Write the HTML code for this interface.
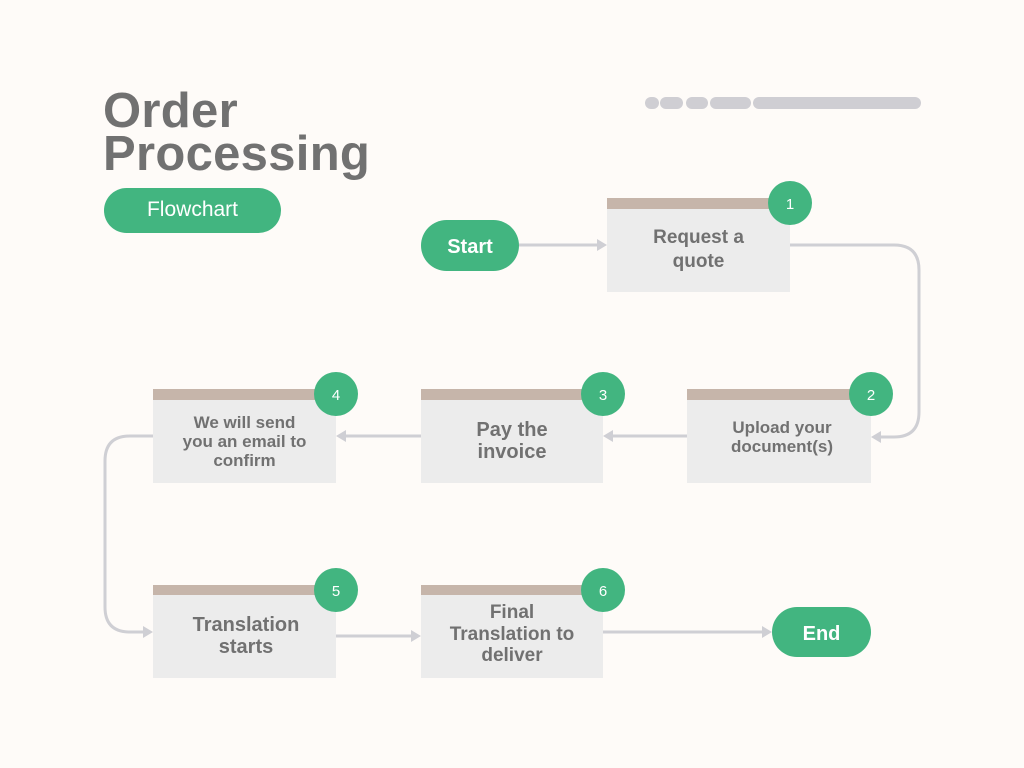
<!DOCTYPE html>
<html>
<head>
<meta charset="utf-8">
<style>
  html, body { margin:0; padding:0; background:#fefbf8; }
  body { width:1024px; height:768px; overflow:hidden; }
  svg { display:block; }
  text { font-family: "Liberation Sans", Arial, sans-serif; }
</style>
</head>
<body>
<svg width="1024" height="768" viewBox="0 0 1024 768" xmlns="http://www.w3.org/2000/svg">
  <rect x="0" y="0" width="1024" height="768" fill="#fefbf8"/>

  <!-- Title -->
  <text x="103" y="127" font-size="49" font-weight="bold" fill="#717171" letter-spacing="0.3">Order</text>
  <text x="103" y="170" font-size="49" font-weight="bold" fill="#717171" letter-spacing="0.3">Processing</text>

  <!-- Flowchart pill -->
  <rect x="104" y="188" width="177" height="45" rx="22.5" fill="#42b580"/>
  <text x="192.5" y="216" font-size="21" fill="#ffffff" text-anchor="middle">Flowchart</text>

  <!-- decorative pills -->
  <rect x="645" y="97" width="14" height="12" rx="6" fill="#cfced3"/>
  <rect x="660" y="97" width="23" height="12" rx="6" fill="#cfced3"/>
  <rect x="686" y="97" width="22" height="12" rx="6" fill="#cfced3"/>
  <rect x="710" y="97" width="41" height="12" rx="6" fill="#cfced3"/>
  <rect x="753" y="97" width="168" height="12" rx="6" fill="#cfced3"/>

  <!-- Connectors -->
  <g fill="none" stroke="#cfcfd4" stroke-width="3">
    <line x1="519" y1="245" x2="598" y2="245"/>
    <path d="M790 245 H894 Q919 245 919 270 V412 Q919 437 894 437 H880"/>
    <line x1="687" y1="436" x2="612" y2="436"/>
    <line x1="421" y1="436" x2="345" y2="436"/>
    <path d="M153 436 H130 Q105 436 105 461 V607 Q105 632 130 632 H144"/>
    <line x1="336" y1="636" x2="412" y2="636"/>
    <line x1="603" y1="632" x2="763" y2="632"/>
  </g>
  <g fill="#cfcfd4">
    <polygon points="607,245 597,239 597,251"/>
    <polygon points="871,437 881,431 881,443"/>
    <polygon points="603,436 613,430 613,442"/>
    <polygon points="336,436 346,430 346,442"/>
    <polygon points="153,632 143,626 143,638"/>
    <polygon points="421,636 411,630 411,642"/>
    <polygon points="772,632 762,626 762,638"/>
  </g>

  <!-- Start / End -->
  <rect x="421" y="220" width="98" height="51" rx="25.5" fill="#42b580"/>
  <text x="470" y="253" font-size="20" font-weight="bold" fill="#ffffff" text-anchor="middle">Start</text>
  <rect x="772" y="607" width="99" height="50" rx="25" fill="#42b580"/>
  <text x="821.5" y="640" font-size="20" font-weight="bold" fill="#ffffff" text-anchor="middle">End</text>

  <!-- Box 1 -->
  <rect x="607" y="198" width="183" height="94" fill="#ececec"/>
  <rect x="607" y="198" width="183" height="11" fill="#c6b5aa"/>
  <text x="698.5" y="243" font-size="19" font-weight="bold" fill="#717171" text-anchor="middle">Request a</text>
  <text x="698.5" y="267" font-size="19" font-weight="bold" fill="#717171" text-anchor="middle">quote</text>
  <circle cx="790" cy="203" r="22" fill="#42b580"/>
  <text x="790" y="209" font-size="15" fill="#ffffff" text-anchor="middle">1</text>

  <!-- Box 2 -->
  <rect x="687" y="389" width="184" height="94" fill="#ececec"/>
  <rect x="687" y="389" width="184" height="11" fill="#c6b5aa"/>
  <text x="782" y="433" font-size="17" font-weight="bold" fill="#717171" text-anchor="middle">Upload your</text>
  <text x="782" y="452" font-size="17" font-weight="bold" fill="#717171" text-anchor="middle">document(s)</text>
  <circle cx="871" cy="394" r="22" fill="#42b580"/>
  <text x="871" y="400" font-size="15" fill="#ffffff" text-anchor="middle">2</text>

  <!-- Box 3 -->
  <rect x="421" y="389" width="182" height="94" fill="#ececec"/>
  <rect x="421" y="389" width="182" height="11" fill="#c6b5aa"/>
  <text x="512" y="436" font-size="20" font-weight="bold" fill="#717171" text-anchor="middle">Pay the</text>
  <text x="512" y="458" font-size="20" font-weight="bold" fill="#717171" text-anchor="middle">invoice</text>
  <circle cx="603" cy="394" r="22" fill="#42b580"/>
  <text x="603" y="400" font-size="15" fill="#ffffff" text-anchor="middle">3</text>

  <!-- Box 4 -->
  <rect x="153" y="389" width="183" height="94" fill="#ececec"/>
  <rect x="153" y="389" width="183" height="11" fill="#c6b5aa"/>
  <text x="244.5" y="428" font-size="17" font-weight="bold" fill="#717171" text-anchor="middle">We will send</text>
  <text x="244.5" y="447" font-size="17" font-weight="bold" fill="#717171" text-anchor="middle">you an email to</text>
  <text x="244.5" y="466" font-size="17" font-weight="bold" fill="#717171" text-anchor="middle">confirm</text>
  <circle cx="336" cy="394" r="22" fill="#42b580"/>
  <text x="336" y="400" font-size="15" fill="#ffffff" text-anchor="middle">4</text>

  <!-- Box 5 -->
  <rect x="153" y="585" width="183" height="93" fill="#ececec"/>
  <rect x="153" y="585" width="183" height="10" fill="#c6b5aa"/>
  <text x="246" y="631" font-size="20" font-weight="bold" fill="#717171" text-anchor="middle">Translation</text>
  <text x="246" y="653" font-size="20" font-weight="bold" fill="#717171" text-anchor="middle">starts</text>
  <circle cx="336" cy="590" r="22" fill="#42b580"/>
  <text x="336" y="596" font-size="15" fill="#ffffff" text-anchor="middle">5</text>

  <!-- Box 6 -->
  <rect x="421" y="585" width="182" height="93" fill="#ececec"/>
  <rect x="421" y="585" width="182" height="10" fill="#c6b5aa"/>
  <text x="512" y="618" font-size="19" font-weight="bold" fill="#717171" text-anchor="middle">Final</text>
  <text x="512" y="640" font-size="19" font-weight="bold" fill="#717171" text-anchor="middle">Translation to</text>
  <text x="512" y="661" font-size="19" font-weight="bold" fill="#717171" text-anchor="middle">deliver</text>
  <circle cx="603" cy="590" r="22" fill="#42b580"/>
  <text x="603" y="596" font-size="15" fill="#ffffff" text-anchor="middle">6</text>
</svg>
</body>
</html>
